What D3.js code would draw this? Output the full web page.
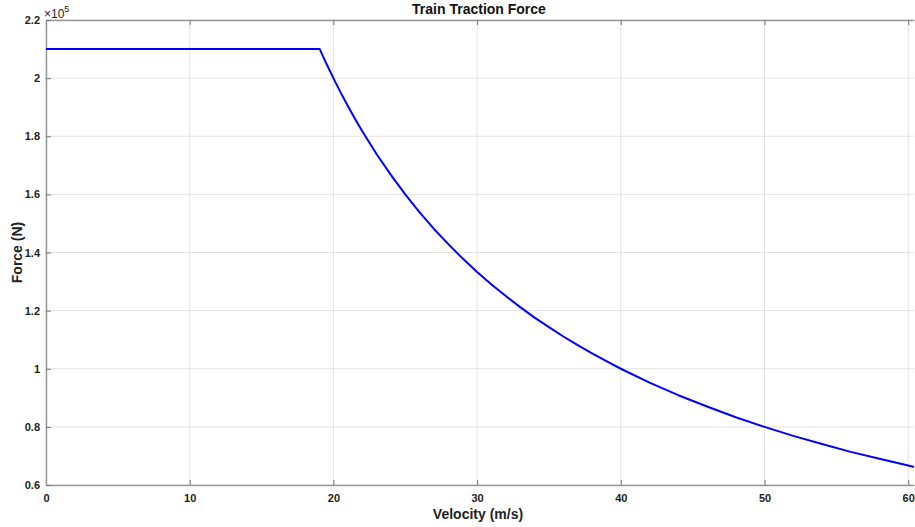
<!DOCTYPE html>
<html>
<head>
<meta charset="utf-8">
<script src="https://cdn.jsdelivr.net/npm/d3@7"></script>
<style>
  body { margin: 0; background: #fff; }
  svg text { font-family: "Liberation Sans", Arial, sans-serif; }
</style>
</head>
<body>
<div id="chart"></div>
<script>
// values (force in units of 1e5 N)
const velocity = [0, 5, 10, 15, 19.05, 19.5, 20, 20.5, 21, 21.5, 22, 23, 24, 25, 26, 27, 28, 29, 30, 31, 32, 33, 34, 35, 36, 37, 38, 39, 40, 42, 44, 46, 48, 50, 52, 54, 56, 58, 60, 60.4];
const force    = [2.1, 2.1, 2.1, 2.1, 2.1, 2.051, 2.0, 1.951, 1.905, 1.860, 1.818, 1.739, 1.667, 1.6, 1.538, 1.481, 1.429, 1.379, 1.333, 1.290, 1.25, 1.212, 1.176, 1.143, 1.111, 1.081, 1.053, 1.026, 1.0, 0.952, 0.909, 0.870, 0.833, 0.8, 0.769, 0.741, 0.714, 0.690, 0.667, 0.662];
const xTicks = [0, 10, 20, 30, 40, 50, 60];
const yTicks = [0.6, 0.8, 1, 1.2, 1.4, 1.6, 1.8, 2, 2.2];

const W = 915, H = 527;
const m = { left: 46, top: 20, bottom: 485 };

const x = d3.scaleLinear().domain([0, 60.4]).range([m.left, m.left + 60.4 * 14.37]);
const y = d3.scaleLinear().domain([0.6, 2.2]).range([m.bottom, m.top]);

const svg = d3.select('#chart').append('svg')
  .attr('width', W).attr('height', H);

const xRight = x.range()[1];

// grid
svg.append('g').selectAll('line').data(xTicks).enter().append('line')
  .attr('x1', d => x(d)).attr('x2', d => x(d))
  .attr('y1', m.top).attr('y2', m.bottom)
  .attr('stroke', '#e3e3e3').attr('stroke-width', 1);
svg.append('g').selectAll('line').data(yTicks).enter().append('line')
  .attr('x1', m.left).attr('x2', xRight)
  .attr('y1', d => y(d)).attr('y2', d => y(d))
  .attr('stroke', '#e3e3e3').attr('stroke-width', 1);

// axes (ticks inward, MATLAB style)
const xAxis = svg.append('g').attr('transform', `translate(0,${m.bottom})`)
  .call(d3.axisBottom(x).tickValues(xTicks).tickSizeInner(-5).tickSizeOuter(0).tickPadding(9).tickFormat(d3.format('d')));
const xTop = svg.append('g').attr('transform', `translate(0,${m.top})`)
  .call(d3.axisTop(x).tickValues(xTicks).tickSizeInner(-5).tickSizeOuter(0).tickFormat(''));
const yAxis = svg.append('g').attr('transform', `translate(${m.left},0)`)
  .call(d3.axisLeft(y).tickValues(yTicks).tickSizeInner(-5).tickSizeOuter(0).tickPadding(9).tickFormat(d => String(+d.toFixed(1))));

[xAxis, xTop, yAxis].forEach(g => {
  g.select('.domain').attr('stroke', '#999').attr('stroke-width', 1.5);
  g.selectAll('.tick line').attr('stroke', '#777');
  g.selectAll('text').attr('fill', '#222').style('font-size', '11px').style('font-weight', 'bold');
});
yAxis.selectAll('text').attr('dx', '3');

// curve
const pts = velocity.map((v, i) => [v, force[i]]);
svg.append('path').datum(pts)
  .attr('fill', 'none')
  .attr('stroke', '#0000ff')
  .attr('stroke-width', 2)
  .attr('stroke-linejoin', 'round')
  .attr('d', d3.line().x(d => x(d[0])).y(d => y(d[1])));

// exponent label
const ex = svg.append('text').attr('x', m.left - 2).attr('y', m.top - 2)
  .attr('fill', '#222').style('font-size', '12px');
ex.append('tspan').text('\u00d710');
ex.append('tspan').attr('dy', -6).style('font-size', '9px').text('5');

// title & labels
svg.append('text').attr('x', 479).attr('y', 14).attr('text-anchor', 'middle')
  .style('font-size', '14px').style('font-weight', 'bold').attr('fill', '#111')
  .text('Train Traction Force');
svg.append('text').attr('x', 478).attr('y', 519).attr('text-anchor', 'middle')
  .style('font-size', '14px').style('font-weight', 'bold').attr('fill', '#222')
  .text('Velocity (m/s)');
svg.append('text').attr('transform', `translate(22,${(m.top + m.bottom) / 2}) rotate(-90)`)
  .attr('text-anchor', 'middle')
  .style('font-size', '14px').style('font-weight', 'bold').attr('fill', '#222')
  .text('Force (N)');
</script>
</body>
</html>
